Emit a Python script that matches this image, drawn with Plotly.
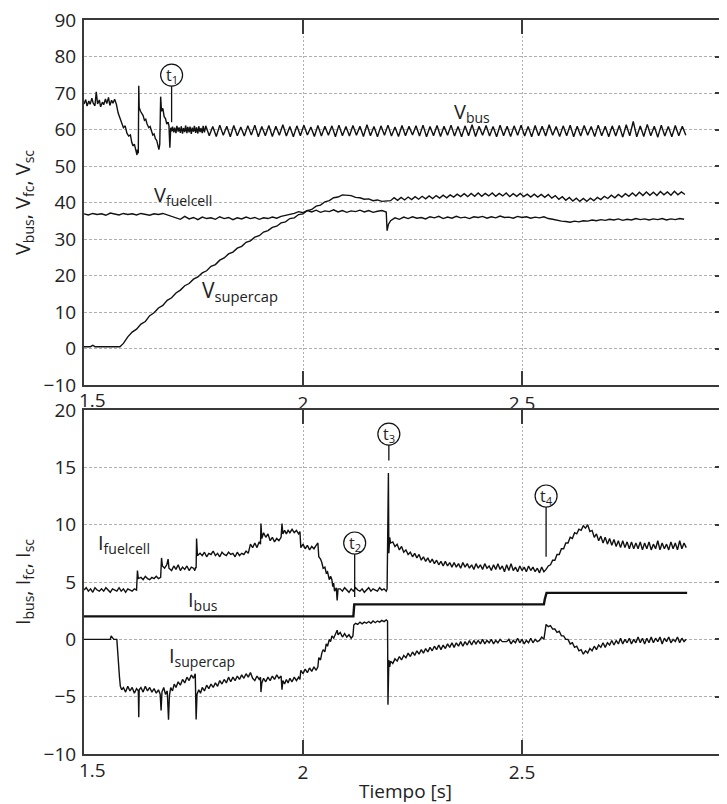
import numpy as np
import plotly.graph_objects as go

# ---------------- DATA ----------------
# --- Top panel: voltages [V] ---
# V_bus transient (explicit samples)
vbus_t_a = [1.500, 1.504, 1.507, 1.511, 1.514, 1.518, 1.521, 1.525, 1.528, 1.531, 1.535, 1.538,
            1.542, 1.545, 1.549, 1.552, 1.556, 1.559, 1.563, 1.566, 1.570, 1.574, 1.578, 1.582,
            1.586, 1.590, 1.594, 1.598, 1.602, 1.606, 1.609, 1.612, 1.615, 1.618, 1.621, 1.622,
            1.624, 1.625, 1.626, 1.629, 1.632, 1.635, 1.638, 1.641, 1.644, 1.648, 1.651, 1.654,
            1.657, 1.660, 1.663, 1.666, 1.669, 1.671, 1.673, 1.675, 1.677, 1.680, 1.683, 1.686,
            1.689, 1.692, 1.694, 1.696, 1.698,
            1.700, 1.702, 1.705, 1.707, 1.710, 1.712, 1.715, 1.717, 1.720, 1.722, 1.725, 1.727,
            1.730, 1.732, 1.735, 1.737, 1.740, 1.742, 1.745, 1.747, 1.750, 1.752, 1.755, 1.757,
            1.760, 1.762, 1.765, 1.767, 1.770, 1.772, 1.775]
vbus_v_a = [67.0, 68.2, 66.4, 67.8, 66.9, 68.6, 67.2, 66.5, 70.3, 67.0, 68.1, 66.2,
            67.5, 66.8, 68.4, 67.1, 68.8, 66.6, 68.0, 67.2, 68.3, 66.9, 64.5, 63.0,
            61.5, 60.5, 61.0, 59.0, 58.2, 58.5, 56.5, 55.5, 56.0, 54.0, 53.0, 54.5,
            53.5, 72.0, 66.0, 65.0, 64.5, 63.8, 62.5, 62.8, 61.5, 60.5, 60.8, 59.5,
            58.5, 58.8, 57.5, 57.0, 55.0, 54.5, 56.0, 69.0, 65.0, 65.8, 63.5, 63.0,
            61.5, 62.0, 61.0, 55.0, 60.5,
            59.5, 60.8, 59.2, 60.5, 59.0, 61.0, 59.4, 60.6, 59.1, 60.9, 58.9, 60.4,
            59.3, 61.1, 59.0, 60.7, 59.2, 60.8, 58.8, 60.5, 59.4, 61.0, 59.1, 60.6,
            58.9, 60.9, 59.3, 60.4, 59.0, 61.0, 59.2]
# V_bus steady ripple, one sample every 8 ms from 1.778 s
vbus_ripple_t0 = 1.778
vbus_ripple_dt = 0.008
vbus_ripple = [61.0, 58.3, 60.8, 58.1, 61.2, 58.4, 60.9, 58.0, 61.1, 58.3, 60.7, 58.2,
               61.0, 58.5, 61.2, 58.0, 60.8, 58.3, 61.1, 58.1, 60.9, 58.4, 61.3, 58.2,
               60.8, 58.0, 61.0, 58.3, 61.2, 58.5, 60.7, 58.1, 61.1, 58.2, 60.9, 58.4,
               61.0, 58.0, 61.2, 58.3, 60.8, 58.2, 61.1, 58.4, 60.9, 58.1, 61.3, 58.3,
               60.8, 58.0, 61.0, 58.4, 61.2, 58.2, 60.7, 58.1, 61.1, 58.3, 60.9, 58.5,
               61.0, 58.2, 61.2, 58.0, 60.8, 58.3, 61.1, 58.1, 60.9, 58.4, 61.2, 58.2,
               60.8, 58.0, 61.0, 58.3, 61.3, 58.1, 60.9, 58.4, 61.1, 58.2, 60.8, 58.0,
               61.2, 58.3, 60.9, 58.1, 61.0, 58.4, 61.2, 58.2, 60.8, 58.0, 61.1, 58.3,
               60.9, 58.2, 61.3, 58.4, 60.8, 58.1, 61.0, 58.3, 61.2, 58.0, 60.9, 58.2,
               61.1, 58.4, 60.8, 58.1, 61.2, 58.3, 60.9, 58.0, 61.0, 58.2, 61.1, 57.9,
               61.3, 58.3, 62.2, 58.0, 61.0, 58.1, 61.4, 58.3, 60.9, 57.9, 61.2, 58.2,
               60.8, 58.0, 61.1, 58.3, 60.9, 58.4]

# V_fuelcell, one sample every 10 ms, plus the dip at t3
vfc_t0_a = 1.50
vfc_dt = 0.01
vfc_a = [36.9, 36.6, 37.0, 36.7, 36.9, 36.5, 37.1, 36.8, 36.6, 37.0, 36.7, 36.9, 36.6, 37.0,
         36.8, 36.5, 36.9, 36.7, 37.0, 36.6, 36.4,
         36.0, 35.4, 36.2, 35.5, 35.9, 35.3, 36.0, 35.6, 35.8, 35.4, 36.1, 35.6, 35.9, 35.3,
         35.8, 35.5, 36.0, 35.6, 35.9, 35.4, 35.8, 35.6, 36.0, 35.7, 36.2,
         36.4, 36.8, 37.0, 37.5, 37.2, 37.8, 37.4, 37.9, 37.3, 37.7, 37.5, 38.0, 37.4, 37.8,
         37.3, 37.7, 37.5, 37.9, 37.4, 37.8, 37.3, 37.6, 37.8, 37.4]
vfc_dip_t = [2.192, 2.195]
vfc_dip_v = [32.3, 34.0]
vfc_t0_b = 2.20
vfc_b = [35.0, 35.8, 35.4, 36.0, 35.6, 36.1, 35.7, 35.9, 35.5, 36.1,
         35.8, 36.2, 35.6, 36.0, 35.7, 36.2, 35.8, 36.0, 35.6, 36.1,
         35.9, 36.2, 35.7, 36.1, 35.8, 36.3, 35.9, 36.0, 35.7, 36.2,
         35.9, 36.1, 35.7, 36.0, 35.8, 36.1, 35.6, 35.4, 35.1, 34.9,
         34.8, 34.6, 34.9, 34.7, 35.0, 34.9, 35.2, 35.0, 35.3, 35.1,
         35.4, 35.2, 35.5, 35.1, 35.4, 35.2, 35.6, 35.3, 35.5, 35.2,
         35.5, 35.3, 35.6, 35.2, 35.5, 35.3, 35.6, 35.4]

# V_supercap: idle, charging ramp (every 10 ms), then ripple every 8 ms
vsc_t_a = [1.500, 1.515, 1.520, 1.525, 1.540, 1.560, 1.582, 1.590]
vsc_v_a = [0.5, 0.5, 0.9, 0.5, 0.5, 0.5, 0.5, 1.4]
vsc_ramp_t0 = 1.60
vsc_ramp_dt = 0.01
vsc_ramp = [3.2, 4.5, 5.3, 6.7, 7.4, 9.0, 9.8, 11.1, 11.8, 13.2, 13.9, 15.2, 16.0, 17.2,
            17.8, 19.0, 19.6, 20.7, 21.3, 22.5, 23.0, 24.2, 24.8, 25.9, 26.4, 27.5, 28.0,
            29.1, 29.5, 30.5, 30.9, 31.9, 32.3, 33.2, 33.5, 34.4, 34.7, 35.6, 35.8, 36.7,
            36.9, 37.8, 38.1, 39.0, 39.3, 40.2, 40.5, 41.3, 41.5, 42.1, 41.9,
            41.9, 41.4, 41.3, 40.9, 41.0, 40.5, 40.7, 40.3, 40.5]
vsc_ripple_t0 = 2.20
vsc_ripple_dt = 0.008
vsc_ripple = [40.5, 41.3, 40.6, 41.4, 40.7, 41.5, 40.8, 41.6, 40.9, 41.7, 41.0, 41.8,
              41.1, 41.9, 41.2, 42.0, 41.3, 42.1, 41.5, 42.3, 41.6, 42.4, 41.6, 42.5,
              41.7, 42.6, 41.7, 42.5, 41.8, 42.6, 41.7, 42.5, 41.8, 42.6, 41.6, 42.4,
              41.7, 42.5, 41.6, 42.3, 41.5, 42.3, 41.5, 42.2, 41.4, 42.2, 41.2, 41.9,
              40.9, 41.6, 40.6, 41.4, 40.4, 41.2, 40.3, 41.1, 40.3, 41.2, 40.5, 41.4,
              40.8, 41.7, 41.1, 42.0, 41.3, 42.2, 41.5, 42.4, 41.7, 42.6, 41.8, 42.8,
              41.9, 42.9, 42.0, 42.8, 41.9, 43.0, 42.1, 42.9, 42.0, 43.1, 42.1, 42.9,
              42.2]

# --- Bottom panel: currents [A] ---
ifc_t_a = [1.500, 1.505, 1.510, 1.515, 1.520, 1.525, 1.530, 1.535, 1.540, 1.545, 1.550, 1.555,
           1.560, 1.565, 1.570, 1.575, 1.580, 1.585, 1.590, 1.595, 1.600, 1.605, 1.610, 1.615,
           1.620, 1.622, 1.624, 1.630, 1.635, 1.640, 1.645, 1.650, 1.655, 1.660, 1.665, 1.670,
           1.675, 1.677, 1.679, 1.684, 1.689, 1.692, 1.694, 1.700, 1.705, 1.710, 1.715, 1.720,
           1.725, 1.730, 1.735, 1.740, 1.745, 1.750, 1.753, 1.755, 1.756, 1.757, 1.759,
           1.765, 1.770, 1.775, 1.780, 1.785, 1.790, 1.795, 1.800, 1.805, 1.810, 1.815, 1.820,
           1.825, 1.830, 1.835, 1.840, 1.845, 1.850, 1.855, 1.860, 1.865, 1.870, 1.875,
           1.880, 1.885, 1.890, 1.895, 1.900, 1.903, 1.904, 1.906, 1.910, 1.915, 1.920, 1.925,
           1.930, 1.935, 1.940, 1.945, 1.950, 1.952, 1.954, 1.958, 1.962, 1.966, 1.970, 1.975,
           1.980, 1.985, 1.990, 1.993, 1.995, 2.000, 2.005, 2.010, 2.015, 2.020, 2.025, 2.030,
           2.034, 2.036, 2.040, 2.043, 2.046, 2.050, 2.053, 2.056, 2.060, 2.063, 2.066, 2.068,
           2.070, 2.072, 2.076, 2.078, 2.080,
           2.085, 2.090, 2.095, 2.100, 2.105, 2.110, 2.115, 2.120, 2.125, 2.130, 2.135, 2.140,
           2.145, 2.150, 2.155, 2.160, 2.165, 2.170, 2.175, 2.180, 2.185, 2.190,
           2.192, 2.193, 2.194, 2.195, 2.196, 2.198, 2.200]
ifc_v_a = [4.3, 4.5, 4.2, 4.4, 4.1, 4.5, 4.3, 4.2, 4.4, 4.2, 4.5, 4.3,
           4.1, 4.4, 4.3, 4.2, 4.5, 4.2, 4.4, 4.1, 4.4, 4.3, 4.2, 4.4,
           4.3, 6.0, 5.3, 5.4, 5.2, 5.5, 5.3, 5.2, 5.4, 5.3, 5.5, 5.3,
           5.4, 7.1, 6.4, 6.2, 6.5, 7.0, 6.2, 6.0, 6.4, 6.1, 6.5, 6.0,
           6.3, 6.1, 6.4, 6.0, 6.3, 6.2, 6.0, 6.3, 6.2, 8.8, 7.3,
           7.5, 7.3, 7.6, 7.2, 7.5, 7.4, 7.7, 7.3, 7.5, 7.2, 7.6, 7.4,
           7.3, 7.6, 7.4, 7.5, 7.2, 7.6, 7.3, 7.5, 7.4, 7.7, 7.5,
           8.3, 8.0, 8.4, 8.0, 8.5, 8.3, 10.1, 8.8, 9.3, 8.9, 9.2, 8.6,
           8.9, 8.5, 8.8, 8.6, 8.9, 10.1, 9.2, 9.5, 9.2, 9.5, 9.3, 9.6,
           9.3, 9.5, 9.2, 9.4, 8.0, 8.3, 7.9, 8.2, 7.8, 8.1, 7.9, 8.2,
           8.4, 7.2, 7.0, 6.7, 6.2, 6.3, 5.8, 5.9, 5.2, 5.5, 5.2, 4.6,
           4.9, 4.2, 4.5, 3.4, 4.4,
           4.4, 4.2, 4.5, 4.3, 4.1, 4.4, 4.2, 4.5, 4.3, 4.2, 4.4, 4.1,
           4.3, 4.5, 4.2, 4.4, 4.3, 4.2, 4.5, 4.3, 4.4, 4.2,
           4.4, 11.0, 11.3, 14.5, 7.5, 8.9, 8.4]
ifc_t0_b = 2.205
ifc_dt_b = 0.005
ifc_b = [8.5, 8.1, 8.3, 7.8, 8.1, 7.6, 7.8, 7.4, 7.6, 7.2, 7.5, 7.1, 7.4, 6.9, 7.2, 6.8,
         7.1, 6.7, 7.0, 6.6, 6.9, 6.5, 6.8, 6.4, 6.8, 6.4, 6.7, 6.3, 6.7, 6.3, 6.6, 6.2,
         6.7, 6.3, 6.6, 6.2, 6.5, 6.1, 6.6, 6.2, 6.5, 6.1, 6.6, 6.2, 6.4, 6.0, 6.5, 6.1,
         6.6, 6.1, 6.4, 5.9, 6.5, 6.0, 6.6, 6.0, 6.3, 5.9, 6.4, 6.0, 6.3, 5.9, 6.4, 6.0,
         6.3, 5.9, 6.2, 5.8, 6.3, 5.9, 6.1, 6.4, 6.5, 6.9, 6.9, 7.4, 7.4, 7.9, 7.9, 8.4,
         8.4, 8.9, 8.8, 9.3, 9.2, 9.6, 9.5, 9.9, 9.7, 10.0, 9.4, 9.5, 8.9, 9.2, 8.6, 9.0,
         8.4, 8.9, 8.3, 8.8, 8.2, 8.7, 8.1, 8.6, 8.0, 8.6, 8.0, 8.5, 7.9, 8.5, 7.9, 8.4,
         7.9, 8.5, 7.8, 8.4, 7.9, 8.5, 7.8, 8.3, 7.9, 8.6, 7.8, 8.4, 7.9, 8.3, 7.8, 8.5,
         7.9, 8.4, 7.8, 8.6, 7.9, 8.4, 8.0]

ibus_t = [1.500, 2.115, 2.117, 2.550, 2.552, 2.556, 2.877]
ibus_v = [2.0, 2.0, 3.05, 3.05, 3.5, 4.05, 4.05]

isc_t_a = [1.500, 1.520, 1.540, 1.560, 1.562, 1.565, 1.568, 1.575, 1.577, 1.579, 1.581, 1.583,
           1.586, 1.590, 1.595, 1.600, 1.605, 1.610, 1.615, 1.620, 1.624, 1.625, 1.626, 1.630,
           1.635, 1.640, 1.645, 1.650, 1.655, 1.660, 1.665, 1.670, 1.674, 1.676, 1.678, 1.682,
           1.686, 1.690, 1.693, 1.695, 1.698, 1.702, 1.706, 1.710, 1.715, 1.720, 1.725, 1.730,
           1.735, 1.740, 1.745, 1.750, 1.754, 1.756, 1.758, 1.762, 1.766, 1.770, 1.775, 1.780,
           1.785, 1.790, 1.795, 1.800, 1.805, 1.810, 1.815, 1.820, 1.825, 1.830, 1.835, 1.840,
           1.845, 1.850, 1.855, 1.860, 1.865, 1.870, 1.875, 1.880, 1.885, 1.890, 1.895, 1.900,
           1.903, 1.904, 1.906, 1.910, 1.915, 1.920, 1.925, 1.930, 1.935, 1.940, 1.945, 1.950,
           1.952, 1.954, 1.958, 1.962, 1.966, 1.970, 1.975, 1.980, 1.985, 1.990, 1.993, 1.995,
           2.000, 2.005, 2.010, 2.015, 2.020, 2.025, 2.030, 2.034, 2.036, 2.040, 2.043, 2.046,
           2.050, 2.053, 2.056, 2.060, 2.063, 2.066, 2.070, 2.074, 2.078, 2.080, 2.085, 2.090,
           2.095, 2.100, 2.105, 2.110, 2.114, 2.116, 2.120, 2.125, 2.130, 2.135, 2.140, 2.145,
           2.150, 2.155, 2.160, 2.165, 2.170, 2.175, 2.180, 2.185, 2.190, 2.193, 2.194, 2.196,
           2.198, 2.200]
isc_v_a = [0.0, 0.0, 0.0, 0.0, 0.3, 0.1, 0.0, 0.0, -1.8, -2.2, -3.3, -4.1,
           -4.4, -4.2, -4.6, -4.1, -4.5, -4.2, -4.7, -4.3, -4.5, -6.8, -4.4, -4.2,
           -4.6, -4.1, -4.5, -4.2, -4.6, -4.3, -4.7, -4.4, -4.8, -6.2, -4.6, -4.2,
           -4.8, -4.5, -7.0, -4.9, -4.2, -4.5, -3.9, -4.2, -3.7, -4.0, -3.5, -3.8,
           -3.3, -3.6, -3.1, -3.4, -3.0, -7.0, -4.8, -4.4, -4.7, -4.2, -4.5, -4.0,
           -4.3, -3.9, -4.2, -3.8, -4.1, -3.6, -3.9, -3.5, -3.8, -3.3, -3.7, -3.3,
           -3.6, -3.2, -3.5, -3.1, -3.4, -3.0, -3.3, -2.9, -3.4, -3.6, -3.2, -3.5,
           -3.3, -4.6, -3.8, -3.4, -3.7, -3.3, -3.6, -3.2, -3.5, -3.1, -3.4, -3.2,
           -4.4, -3.6, -3.9, -3.5, -3.8, -3.4, -3.7, -3.3, -3.6, -3.3, -3.5, -2.7,
           -3.0, -2.6, -2.9, -2.5, -2.8, -2.4, -2.7, -2.4, -1.6, -1.8, -1.2, -0.9,
           -1.1, -0.4, -0.6, 0.0, -0.2, 0.3, 0.1, 0.5, 0.8, 0.4, 0.6, 0.2,
           0.5, 0.2, 0.4, 0.1, 0.3, 1.25, 1.4, 1.3, 1.5, 1.35, 1.5, 1.4,
           1.55, 1.4, 1.6, 1.45, 1.6, 1.5, 1.65, 1.55, 1.7, 1.6, -5.7, -1.8,
           -2.4, -1.9]
isc_t0_b = 2.205
isc_dt_b = 0.005
isc_b = [-2.1, -1.7, -1.9, -1.5, -1.8, -1.4, -1.6, -1.2, -1.5, -1.1, -1.4, -1.0, -1.3, -0.9,
         -1.2, -0.8, -1.1, -0.7, -1.0, -0.6, -0.9, -0.5, -0.9, -0.5, -0.8, -0.4, -0.7, -0.3,
         -0.7, -0.3, -0.6, -0.2, -0.6, -0.2, -0.5, -0.1, -0.5, -0.1, -0.4, -0.1, -0.4, 0.0,
         -0.4, -0.1, -0.3, 0.0, -0.4, -0.1, -0.3, 0.0, -0.2, -0.2, -0.2, 0.0, -0.4, -0.1,
         -0.3, 0.1, -0.3, 0.0, -0.4, -0.1, -0.3, 0.1, -0.3, 0.0, -0.2, -0.1, 0.2, 0.0,
         1.3, 1.1, 1.2, 0.9, 0.9, 0.6, 0.7, 0.3, 0.3, 0.0, 0.0, -0.4, -0.3, -0.7, -0.6,
         -1.0, -0.9, -1.3, -1.0, -1.2, -0.8, -1.0, -0.6, -0.9, -0.5, -0.7, -0.3, -0.7, -0.3,
         -0.5, -0.1, -0.5, -0.1, -0.4, 0.1, -0.4, 0.0, -0.3, 0.1, -0.4, 0.0, -0.3, 0.2,
         -0.3, 0.1, -0.4, 0.1, -0.3, 0.2, -0.3, 0.1, -0.2, 0.2, -0.4, 0.1, -0.2, 0.2,
         -0.3, 0.0, -0.2, 0.2, -0.3, 0.1, -0.2, 0.0]

# event markers: (label, time, circle-centre value, line-bottom value, panel)
events = [("1", 1.700, 74.9, 62.0, 1),
          ("2", 2.118, 8.4, 3.7, 2),
          ("3", 2.196, 17.9, 15.6, 2),
          ("4", 2.555, 12.5, 7.2, 2)]

# curve labels: (main letter, subscript, time, value, panel)
curve_labels = [("V", "bus", 2.341, 64.6, 1),
                ("V", "fuelcell", 1.655, 41.8, 1),
                ("V", "supercap", 1.765, 15.8, 1),
                ("I", "fuelcell", 1.528, 8.4, 2),
                ("I", "bus", 1.733, 3.35, 2),
                ("I", "supercap", 1.689, -1.5, 2)]

x_ticks = [2.0, 2.5]
v_ticks = list(range(-10, 91, 10))
i_ticks = list(range(-10, 21, 5))

# ---------------- FIGURE ----------------
# the page body has an 8 px margin; the figure is sized so the plot lands where the
# reference has it (plot area: left 84, top 20, bottom 754, right edge = window edge)
OFF = 8
PAGE_W, PAGE_H = 727, 804
P_LEFT, P_TOP, P_BOTTOM = 84, 20, 754
W = PAGE_W - OFF
H = PAGE_H - OFF
ML, MT, MR = P_LEFT - OFF, P_TOP - OFF, 0
MB = H - (P_BOTTOM - OFF)
PX_PER_S = 438.0
plot_w = W - ML - MR
plot_h = H - MT - MB
x_max = 1.5 + plot_w / PX_PER_S
top_dom = [1 - 365 / plot_h, 1.0]
bot_dom = [0.0, 344 / plot_h]


def seq(t0, dt, vals):
    return list(t0 + dt * np.arange(len(vals)))


vbus_t = vbus_t_a + seq(vbus_ripple_t0, vbus_ripple_dt, vbus_ripple)
vbus_v = vbus_v_a + vbus_ripple
vfc_t = seq(vfc_t0_a, vfc_dt, vfc_a) + vfc_dip_t + seq(vfc_t0_b, vfc_dt, vfc_b)
vfc_v = vfc_a + vfc_dip_v + vfc_b
vsc_t = vsc_t_a + seq(vsc_ramp_t0, vsc_ramp_dt, vsc_ramp) + seq(vsc_ripple_t0, vsc_ripple_dt, vsc_ripple)
vsc_v = vsc_v_a + vsc_ramp + vsc_ripple
ifc_t = ifc_t_a + seq(ifc_t0_b, ifc_dt_b, ifc_b)
ifc_v = ifc_v_a + ifc_b
isc_t = isc_t_a + seq(isc_t0_b, isc_dt_b, isc_b)
isc_v = isc_v_a + isc_b

LC = "#111111"
fig = go.Figure()
for tt, vv in [(vbus_t, vbus_v), (vfc_t, vfc_v), (vsc_t, vsc_v)]:
    fig.add_trace(go.Scatter(x=tt, y=vv, mode="lines", line=dict(color=LC, width=1.4),
                             xaxis="x", yaxis="y", showlegend=False, hoverinfo="skip"))
for tt, vv, w in [(ifc_t, ifc_v, 1.4), (ibus_t, ibus_v, 2.4), (isc_t, isc_v, 1.4)]:
    fig.add_trace(go.Scatter(x=tt, y=vv, mode="lines", line=dict(color=LC, width=w),
                             xaxis="x2", yaxis="y2", showlegend=False, hoverinfo="skip"))

FONT = "Open Sans, Lato, Arial, sans-serif"
AX = "#3a3a3a"
GRID = "#b0b0b0"
TXT = "#222222"
tickfont = dict(family=FONT, size=19, color=TXT)

xcommon = dict(range=[1.5, x_max], tickvals=x_ticks, ticktext=["2", "2.5"], ticks="inside",
               ticklen=14, tickwidth=1.6, tickcolor=AX, showline=True, linewidth=2,
               linecolor=AX, mirror="ticks", showgrid=True, gridcolor=GRID,
               griddash="2px,2px", gridwidth=1, zeroline=False, tickfont=tickfont,
               automargin=False, ticklabeloverflow="allow")
ycommon = dict(ticks="", showline=True, linewidth=2, linecolor=AX, mirror=False,
               showgrid=True, gridcolor=GRID, griddash="3px,2px", gridwidth=1,
               zeroline=False, tickfont=tickfont, automargin=False, ticklabelstandoff=2,
               ticklabeloverflow="allow")
ymirror = dict(ticks="inside", ticklen=12, tickwidth=1.6, tickcolor=AX, showticklabels=False,
               showgrid=False, showline=False, zeroline=False, side="right")

fig.update_layout(
    width=W, height=H, margin=dict(l=ML, r=MR, t=MT, b=MB),
    paper_bgcolor="white", plot_bgcolor="white",
    xaxis=dict(domain=[0, 1], anchor="y", **xcommon),
    yaxis=dict(domain=top_dom, anchor="x", range=[-10, 90], tickvals=v_ticks,
               title=dict(text="V<sub>bus</sub>, V<sub>fc</sub>, V<sub>sc</sub>",
                          font=dict(family=FONT, size=20, color=TXT), standoff=8),
               **ycommon),
    xaxis2=dict(domain=[0, 1], anchor="y2",
                title=dict(text="Tiempo [s]", font=dict(family=FONT, size=19, color=TXT),
                           standoff=4),
                **xcommon),
    yaxis2=dict(domain=bot_dom, anchor="x2", range=[-10, 20], tickvals=i_ticks,
                title=dict(text="I<sub>bus</sub>, I<sub>fc</sub>, I<sub>sc</sub>",
                           font=dict(family=FONT, size=20, color=TXT), standoff=8),
                **ycommon),
    yaxis3=dict(overlaying="y", anchor="x", range=[-10, 90], tickvals=v_ticks[1:-1], **ymirror),
    yaxis4=dict(overlaying="y2", anchor="x2", range=[-10, 20], tickvals=i_ticks[1:-1], **ymirror),
)

# invisible traces so that the mirror axes are drawn
fig.add_trace(go.Scatter(x=[1.6], y=[0], xaxis="x", yaxis="y3", mode="lines",
                         showlegend=False, hoverinfo="skip"))
fig.add_trace(go.Scatter(x=[1.6], y=[0], xaxis="x2", yaxis="y4", mode="lines",
                         showlegend=False, hoverinfo="skip"))

# x tick labels "1.5" (shifted right of the corner) and the clipped "3"
for ylab_page in [400, 770]:
    ylab = (P_BOTTOM - ylab_page) / plot_h
    fig.add_annotation(x=(92 - P_LEFT) / plot_w, y=ylab, xref="paper", yref="paper",
                       text="1.5", showarrow=False, xanchor="center", yanchor="middle",
                       font=tickfont)
    fig.add_annotation(x=(723 - P_LEFT) / plot_w, y=ylab, xref="paper", yref="paper",
                       text="3", showarrow=False, xanchor="left", yanchor="middle",
                       font=tickfont)

# curve labels
for main, sub, tx, vy, panel in curve_labels:
    xr, yr = ("x", "y") if panel == 1 else ("x2", "y2")
    size = 21 if (sub == "supercap" and main == "V") else 20
    fig.add_annotation(x=tx, y=vy, xref=xr, yref=yr, text=f"{main}<sub>{sub}</sub>",
                       showarrow=False, xanchor="left", yanchor="middle",
                       font=dict(family=FONT, size=size, color=TXT))

# event markers
R = 11
for lab, te, vc, vb, panel in events:
    xr, yr = ("x", "y") if panel == 1 else ("x2", "y2")
    px_per_unit = (365 / 100.0) if panel == 1 else (344 / 30.0)
    fig.add_shape(type="line", xref=xr, yref=yr, x0=te, x1=te, y0=vb, y1=vc - R / px_per_unit,
                  line=dict(color=LC, width=1.3))
    fig.add_shape(type="circle", xref=xr, yref=yr, xsizemode="pixel", ysizemode="pixel",
                  xanchor=te, yanchor=vc, x0=-R, x1=R, y0=-R, y1=R,
                  line=dict(color=LC, width=1.2), fillcolor="white")
    fig.add_annotation(x=te, y=vc, xref=xr, yref=yr, text=f"t<sub>{lab}</sub>",
                       showarrow=False, xanchor="center", yanchor="middle",
                       font=dict(family=FONT, size=16, color=TXT))

fig.write_html("out.html")
